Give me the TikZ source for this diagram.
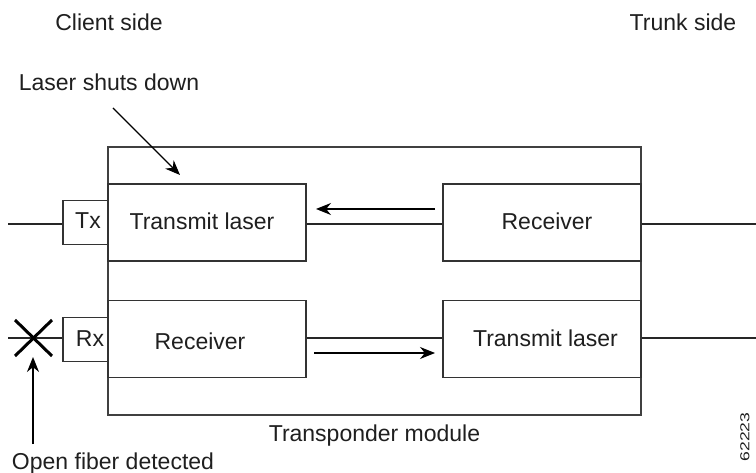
\documentclass[tikz,border=0pt]{standalone}
\usepackage{fontspec}
\setmainfont{Liberation Sans}
\usetikzlibrary{arrows.meta}
\begin{document}
\begin{tikzpicture}[x=1pt,y=-1pt,
  every node/.style={font=\fontsize{23}{27}\selectfont, text=black!88},
  box/.style={draw=black!80, line width=1.3pt, minimum width=198pt, minimum height=77pt, inner sep=0pt},
  port/.style={draw=black!80, line width=1.3pt, minimum width=45pt, minimum height=44pt, inner sep=0pt},
  wire/.style={draw=black!85, line width=1.3pt},
  arr/.style={draw=black, line width=1.3pt, -{Stealth[length=15pt,width=12pt]}},
  lbl/.style={inner sep=0pt, anchor=center}
]
\useasboundingbox (0,0) rectangle (756,473);
\fill[white] (0,0) rectangle (756,473);

% outer module
\node[draw=black!75, line width=1.3pt, minimum width=533pt, minimum height=268pt, inner sep=0pt] (outer) at (374.5,281) {};

% boxes
\node[box] (tl) at (207,222.5) {};
\node[box] (rr) at (542,222.5) {};
\node[box] (rl) at (207,339) {};
\node[box] (tr) at (542,339) {};
\node[port] (tx) at (85.5,222.5) {};
\node[port] (rx) at (85.5,339.5) {};

% texts
\node[lbl] (tltext) at (202,221) {Transmit laser};
\node[lbl] (rrtext) at (547,221) {Receiver};
\node[lbl] (rltext) at (200,341) {Receiver};
\node[lbl] (trtext) at (545.5,338.5) {Transmit laser};
\node[lbl] (txtext) at (88,221) {Tx};
\node[lbl] (rxtext) at (90,338.5) {Rx};
\node[lbl] (client) at (109,22) {Client side};
\node[lbl] (trunk) at (683,22) {Trunk side};
\node[lbl] (lsd) at (109,82) {Laser shuts down};
\node[lbl] (tm) at (374.5,436) {Transponder module};
\node[inner sep=0pt, anchor=base] (ofd) at (113,469) {Open fiber detected};
\node[lbl, rotate=90, font=\fontsize{13}{15}\selectfont] (num) at (745,437) {\scalebox{1.35}[1]{62223}};

% wires
\coordinate (cl1) at (8,224);
\coordinate (cl2) at (8,338);
\coordinate (tr1) at (756,224);
\coordinate (tr2) at (756,338);
\draw[wire] (cl1) -- (tx.west |- cl1);
\draw[wire] (tl.east |- cl1) -- (rr.west |- cl1);
\draw[wire] (rr.east |- tr1) -- (tr1);
\draw[wire] (cl2) -- (rx.west |- cl2);
\draw[wire] (rl.east |- cl2) -- (tr.west |- cl2);
\draw[wire] (tr.east |- tr2) -- (tr2);

% flow arrows
\coordinate (a1s) at (435,209);
\coordinate (a1e) at (316,209);
\coordinate (a2s) at (314,353);
\coordinate (a2e) at (435,353);
\draw[arr] (a1s) -- (a1e);
\draw[arr] (a2s) -- (a2e);

% laser shuts down arrow
\coordinate (l1) at (113,108);
\coordinate (l2) at (180,175);
\draw[arr, line width=1.1pt] (l1) -- (l2);

% open fiber
\draw[black, line width=3pt] (15,320) -- (52,356);
\draw[black, line width=3pt] (15,356) -- (52,320);
\coordinate (o1) at (33,444);
\coordinate (o2) at (33,357);
\draw[arr] (o1) -- (o2);
\end{tikzpicture}
\end{document}
